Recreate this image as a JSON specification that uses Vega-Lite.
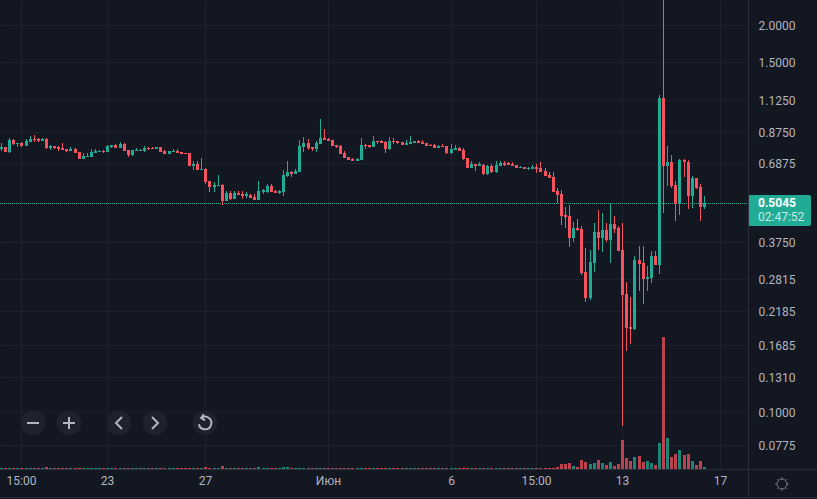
{
  "$schema": "https://vega.github.io/schema/vega-lite/v6.json",
  "description": "Candlestick chart with volume on a logarithmic price scale, dark theme.",
  "width": 748,
  "height": 469,
  "autosize": "none",
  "padding": {"left": 0, "top": 0, "right": 69, "bottom": 30},
  "background": "#131722",
  "config": {"view": {"stroke": null}, "font": "Roboto"},
  "datasets": {
    "bars": [
      {"i":0,"o":0.7678,"h":0.8043,"l":0.7560,"c":0.7798,"v":1},
      {"i":1,"o":0.7798,"h":0.7798,"l":0.7502,"c":0.7502,"v":1},
      {"i":2,"o":0.7502,"h":0.8360,"l":0.7444,"c":0.8232,"v":1},
      {"i":3,"o":0.8232,"h":0.8296,"l":0.7919,"c":0.7981,"v":1},
      {"i":4,"o":0.7981,"h":0.8043,"l":0.7798,"c":0.8043,"v":1},
      {"i":5,"o":0.8043,"h":0.8105,"l":0.7798,"c":0.7858,"v":1},
      {"i":6,"o":0.7858,"h":0.8296,"l":0.7858,"c":0.8168,"v":1},
      {"i":7,"o":0.8105,"h":0.8490,"l":0.8105,"c":0.8296,"v":1},
      {"i":8,"o":0.8296,"h":0.8556,"l":0.8105,"c":0.8232,"v":1},
      {"i":9,"o":0.8296,"h":0.8360,"l":0.8105,"c":0.8168,"v":1},
      {"i":10,"o":0.8168,"h":0.8360,"l":0.8168,"c":0.8296,"v":1},
      {"i":11,"o":0.8296,"h":0.8360,"l":0.7678,"c":0.7738,"v":2},
      {"i":12,"o":0.7738,"h":0.7919,"l":0.7619,"c":0.7858,"v":1},
      {"i":13,"o":0.7858,"h":0.7858,"l":0.7678,"c":0.7738,"v":1},
      {"i":14,"o":0.7798,"h":0.7858,"l":0.7560,"c":0.7678,"v":1},
      {"i":15,"o":0.7738,"h":0.8043,"l":0.7619,"c":0.7619,"v":1},
      {"i":16,"o":0.7678,"h":0.7678,"l":0.7502,"c":0.7560,"v":1},
      {"i":17,"o":0.7560,"h":0.7798,"l":0.7560,"c":0.7678,"v":1},
      {"i":18,"o":0.7678,"h":0.7738,"l":0.7444,"c":0.7444,"v":1},
      {"i":19,"o":0.7502,"h":0.7502,"l":0.7106,"c":0.7106,"v":1},
      {"i":20,"o":0.7106,"h":0.7444,"l":0.7106,"c":0.7273,"v":1},
      {"i":21,"o":0.7217,"h":0.7444,"l":0.7217,"c":0.7273,"v":1},
      {"i":22,"o":0.7217,"h":0.7678,"l":0.7217,"c":0.7502,"v":1},
      {"i":23,"o":0.7444,"h":0.7678,"l":0.7444,"c":0.7560,"v":1},
      {"i":24,"o":0.7502,"h":0.7619,"l":0.7502,"c":0.7560,"v":1},
      {"i":25,"o":0.7560,"h":0.7619,"l":0.7444,"c":0.7502,"v":1},
      {"i":26,"o":0.7502,"h":0.7919,"l":0.7502,"c":0.7858,"v":1},
      {"i":27,"o":0.7798,"h":0.7919,"l":0.7738,"c":0.7919,"v":1},
      {"i":28,"o":0.7919,"h":0.7981,"l":0.7738,"c":0.7738,"v":1},
      {"i":29,"o":0.7738,"h":0.8105,"l":0.7738,"c":0.7981,"v":1},
      {"i":30,"o":0.7981,"h":0.8043,"l":0.7560,"c":0.7560,"v":1},
      {"i":31,"o":0.7619,"h":0.7619,"l":0.7217,"c":0.7330,"v":1},
      {"i":32,"o":0.7330,"h":0.7619,"l":0.7273,"c":0.7619,"v":1},
      {"i":33,"o":0.7560,"h":0.7738,"l":0.7560,"c":0.7619,"v":1},
      {"i":34,"o":0.7560,"h":0.7678,"l":0.7560,"c":0.7619,"v":1},
      {"i":35,"o":0.7560,"h":0.7858,"l":0.7502,"c":0.7738,"v":1},
      {"i":36,"o":0.7738,"h":0.7798,"l":0.7619,"c":0.7678,"v":1},
      {"i":37,"o":0.7738,"h":0.7798,"l":0.7678,"c":0.7678,"v":1},
      {"i":38,"o":0.7678,"h":0.7798,"l":0.7678,"c":0.7798,"v":1},
      {"i":39,"o":0.7798,"h":0.7798,"l":0.7502,"c":0.7502,"v":1},
      {"i":40,"o":0.7560,"h":0.7619,"l":0.7387,"c":0.7387,"v":1},
      {"i":41,"o":0.7387,"h":0.7560,"l":0.7387,"c":0.7560,"v":1},
      {"i":42,"o":0.7502,"h":0.7678,"l":0.7502,"c":0.7560,"v":1},
      {"i":43,"o":0.7560,"h":0.7678,"l":0.7444,"c":0.7444,"v":1},
      {"i":44,"o":0.7502,"h":0.7502,"l":0.7387,"c":0.7387,"v":1},
      {"i":45,"o":0.7444,"h":0.7444,"l":0.7387,"c":0.7387,"v":1},
      {"i":46,"o":0.7444,"h":0.7444,"l":0.6731,"c":0.6731,"v":1},
      {"i":47,"o":0.6731,"h":0.6997,"l":0.6526,"c":0.6836,"v":1},
      {"i":48,"o":0.6836,"h":0.6997,"l":0.6526,"c":0.6526,"v":1},
      {"i":49,"o":0.6526,"h":0.7161,"l":0.6526,"c":0.6577,"v":1},
      {"i":50,"o":0.6577,"h":0.6628,"l":0.5856,"c":0.5947,"v":2},
      {"i":51,"o":0.5993,"h":0.5993,"l":0.5504,"c":0.5721,"v":1},
      {"i":52,"o":0.5721,"h":0.5947,"l":0.5504,"c":0.5811,"v":1},
      {"i":53,"o":0.5766,"h":0.6278,"l":0.5766,"c":0.5811,"v":1},
      {"i":54,"o":0.5811,"h":0.5856,"l":0.4977,"c":0.5134,"v":3},
      {"i":55,"o":0.5134,"h":0.5547,"l":0.5134,"c":0.5461,"v":1},
      {"i":56,"o":0.5461,"h":0.5547,"l":0.5174,"c":0.5214,"v":1},
      {"i":57,"o":0.5214,"h":0.5547,"l":0.5214,"c":0.5461,"v":1},
      {"i":58,"o":0.5461,"h":0.5547,"l":0.5378,"c":0.5378,"v":1},
      {"i":59,"o":0.5419,"h":0.5547,"l":0.5214,"c":0.5336,"v":1},
      {"i":60,"o":0.5336,"h":0.5504,"l":0.5254,"c":0.5419,"v":1},
      {"i":61,"o":0.5378,"h":0.5419,"l":0.5254,"c":0.5254,"v":1},
      {"i":62,"o":0.5295,"h":0.5419,"l":0.5174,"c":0.5174,"v":1},
      {"i":63,"o":0.5174,"h":0.5993,"l":0.5174,"c":0.5547,"v":2},
      {"i":64,"o":0.5504,"h":0.5633,"l":0.5419,"c":0.5590,"v":1},
      {"i":65,"o":0.5504,"h":0.5856,"l":0.5461,"c":0.5766,"v":1},
      {"i":66,"o":0.5766,"h":0.5856,"l":0.5504,"c":0.5504,"v":1},
      {"i":67,"o":0.5547,"h":0.5590,"l":0.5461,"c":0.5461,"v":1},
      {"i":68,"o":0.5461,"h":0.5590,"l":0.5419,"c":0.5547,"v":1},
      {"i":69,"o":0.5504,"h":0.6526,"l":0.5336,"c":0.6278,"v":2},
      {"i":70,"o":0.6230,"h":0.6997,"l":0.6182,"c":0.6426,"v":2},
      {"i":71,"o":0.6426,"h":0.6476,"l":0.6182,"c":0.6327,"v":1},
      {"i":72,"o":0.6327,"h":0.6577,"l":0.6327,"c":0.6476,"v":1},
      {"i":73,"o":0.6426,"h":0.8232,"l":0.6426,"c":0.7858,"v":1},
      {"i":74,"o":0.7798,"h":0.8425,"l":0.7502,"c":0.8043,"v":1},
      {"i":75,"o":0.8043,"h":0.8296,"l":0.7619,"c":0.7738,"v":1},
      {"i":76,"o":0.7798,"h":0.7798,"l":0.7560,"c":0.7678,"v":1},
      {"i":77,"o":0.7678,"h":0.8168,"l":0.7502,"c":0.8043,"v":1},
      {"i":78,"o":0.7981,"h":0.9685,"l":0.7981,"c":0.8360,"v":1},
      {"i":79,"o":0.8360,"h":0.8963,"l":0.8232,"c":0.8232,"v":1},
      {"i":80,"o":0.8296,"h":0.8360,"l":0.8168,"c":0.8168,"v":1},
      {"i":81,"o":0.8232,"h":0.8232,"l":0.7858,"c":0.7858,"v":1},
      {"i":82,"o":0.7919,"h":0.7919,"l":0.7738,"c":0.7798,"v":1},
      {"i":83,"o":0.7858,"h":0.7919,"l":0.7387,"c":0.7387,"v":1},
      {"i":84,"o":0.7444,"h":0.7560,"l":0.7161,"c":0.7161,"v":1},
      {"i":85,"o":0.7217,"h":0.7217,"l":0.7051,"c":0.7051,"v":1},
      {"i":86,"o":0.7106,"h":0.7161,"l":0.6997,"c":0.6997,"v":1},
      {"i":87,"o":0.6997,"h":0.7161,"l":0.6997,"c":0.7106,"v":1},
      {"i":88,"o":0.7051,"h":0.8360,"l":0.7051,"c":0.7919,"v":1},
      {"i":89,"o":0.7919,"h":0.7981,"l":0.7678,"c":0.7858,"v":1},
      {"i":90,"o":0.7919,"h":0.7919,"l":0.7738,"c":0.7798,"v":1},
      {"i":91,"o":0.7798,"h":0.8490,"l":0.7798,"c":0.8168,"v":1},
      {"i":92,"o":0.8168,"h":0.8168,"l":0.7981,"c":0.8105,"v":1},
      {"i":93,"o":0.8168,"h":0.8232,"l":0.8043,"c":0.8043,"v":1},
      {"i":94,"o":0.8105,"h":0.8168,"l":0.7444,"c":0.7678,"v":1},
      {"i":95,"o":0.7678,"h":0.8425,"l":0.7619,"c":0.8168,"v":1},
      {"i":96,"o":0.8168,"h":0.8360,"l":0.7981,"c":0.8105,"v":1},
      {"i":97,"o":0.8168,"h":0.8168,"l":0.7981,"c":0.8043,"v":1},
      {"i":98,"o":0.8105,"h":0.8105,"l":0.7919,"c":0.7919,"v":1},
      {"i":99,"o":0.7919,"h":0.8232,"l":0.7919,"c":0.8043,"v":1},
      {"i":100,"o":0.7981,"h":0.8490,"l":0.7981,"c":0.8105,"v":1},
      {"i":101,"o":0.8043,"h":0.8168,"l":0.8043,"c":0.8168,"v":1},
      {"i":102,"o":0.8168,"h":0.8232,"l":0.8043,"c":0.8043,"v":1},
      {"i":103,"o":0.8105,"h":0.8232,"l":0.7981,"c":0.7981,"v":1},
      {"i":104,"o":0.8043,"h":0.8043,"l":0.7858,"c":0.7858,"v":1},
      {"i":105,"o":0.7919,"h":0.7981,"l":0.7858,"c":0.7858,"v":1},
      {"i":106,"o":0.7919,"h":0.7981,"l":0.7738,"c":0.7738,"v":1},
      {"i":107,"o":0.7738,"h":0.7919,"l":0.7738,"c":0.7858,"v":1},
      {"i":108,"o":0.7858,"h":0.7981,"l":0.7798,"c":0.7798,"v":1},
      {"i":109,"o":0.7858,"h":0.7858,"l":0.7387,"c":0.7444,"v":1},
      {"i":110,"o":0.7444,"h":0.7981,"l":0.7387,"c":0.7678,"v":1},
      {"i":111,"o":0.7619,"h":0.7919,"l":0.7619,"c":0.7738,"v":1},
      {"i":112,"o":0.7738,"h":0.7798,"l":0.7560,"c":0.7560,"v":1},
      {"i":113,"o":0.7619,"h":0.7738,"l":0.7051,"c":0.7106,"v":1},
      {"i":114,"o":0.7161,"h":0.7161,"l":0.6628,"c":0.6628,"v":1},
      {"i":115,"o":0.6628,"h":0.6997,"l":0.6628,"c":0.6836,"v":1},
      {"i":116,"o":0.6836,"h":0.6836,"l":0.6476,"c":0.6731,"v":1},
      {"i":117,"o":0.6731,"h":0.6943,"l":0.6731,"c":0.6836,"v":1},
      {"i":118,"o":0.6783,"h":0.6836,"l":0.6278,"c":0.6327,"v":1},
      {"i":119,"o":0.6327,"h":0.6783,"l":0.6278,"c":0.6731,"v":1},
      {"i":120,"o":0.6731,"h":0.6836,"l":0.6376,"c":0.6426,"v":1},
      {"i":121,"o":0.6426,"h":0.6997,"l":0.6376,"c":0.6783,"v":1},
      {"i":122,"o":0.6731,"h":0.6997,"l":0.6731,"c":0.6889,"v":1},
      {"i":123,"o":0.6889,"h":0.6997,"l":0.6731,"c":0.6783,"v":1},
      {"i":124,"o":0.6889,"h":0.6943,"l":0.6783,"c":0.6783,"v":1},
      {"i":125,"o":0.6836,"h":0.6943,"l":0.6731,"c":0.6731,"v":1},
      {"i":126,"o":0.6783,"h":0.6783,"l":0.6628,"c":0.6628,"v":1},
      {"i":127,"o":0.6628,"h":0.6731,"l":0.6628,"c":0.6679,"v":1},
      {"i":128,"o":0.6679,"h":0.6679,"l":0.6577,"c":0.6577,"v":1},
      {"i":129,"o":0.6577,"h":0.6679,"l":0.6526,"c":0.6628,"v":1},
      {"i":130,"o":0.6577,"h":0.6783,"l":0.6577,"c":0.6679,"v":1},
      {"i":131,"o":0.6679,"h":0.6836,"l":0.6376,"c":0.6577,"v":1},
      {"i":132,"o":0.6628,"h":0.6943,"l":0.6426,"c":0.6426,"v":1},
      {"i":133,"o":0.6476,"h":0.6628,"l":0.6230,"c":0.6230,"v":1},
      {"i":134,"o":0.6278,"h":0.6426,"l":0.6134,"c":0.6134,"v":1},
      {"i":135,"o":0.6182,"h":0.6426,"l":0.5504,"c":0.5504,"v":1},
      {"i":136,"o":0.5547,"h":0.5677,"l":0.5055,"c":0.5378,"v":2},
      {"i":137,"o":0.5419,"h":0.5590,"l":0.4264,"c":0.4571,"v":5},
      {"i":138,"o":0.4606,"h":0.4901,"l":0.4166,"c":0.4536,"v":5},
      {"i":139,"o":0.4571,"h":0.4977,"l":0.3596,"c":0.3856,"v":6},
      {"i":140,"o":0.3856,"h":0.4364,"l":0.3738,"c":0.4166,"v":3},
      {"i":141,"o":0.4166,"h":0.4466,"l":0.4070,"c":0.4102,"v":2},
      {"i":142,"o":0.4134,"h":0.4231,"l":0.2896,"c":0.2941,"v":9},
      {"i":143,"o":0.2964,"h":0.3569,"l":0.2350,"c":0.2424,"v":7},
      {"i":144,"o":0.2424,"h":0.3514,"l":0.2387,"c":0.3202,"v":5},
      {"i":145,"o":0.3177,"h":0.4330,"l":0.2964,"c":0.4039,"v":6},
      {"i":146,"o":0.4039,"h":0.4788,"l":0.3514,"c":0.3856,"v":9},
      {"i":147,"o":0.3856,"h":0.4678,"l":0.3460,"c":0.4102,"v":6},
      {"i":148,"o":0.4102,"h":0.4330,"l":0.3738,"c":0.3797,"v":4},
      {"i":149,"o":0.3797,"h":0.5055,"l":0.3177,"c":0.4297,"v":7},
      {"i":150,"o":0.4297,"h":0.4571,"l":0.4008,"c":0.4134,"v":3},
      {"i":151,"o":0.4166,"h":0.4231,"l":0.3487,"c":0.3487,"v":5},
      {"i":152,"o":0.3514,"h":0.4330,"l":0.0899,"c":0.2481,"v":29},
      {"i":153,"o":0.2500,"h":0.2743,"l":0.1609,"c":0.1922,"v":11},
      {"i":154,"o":0.1937,"h":0.2443,"l":0.1697,"c":0.1907,"v":8},
      {"i":155,"o":0.1907,"h":0.3355,"l":0.1893,"c":0.3252,"v":12},
      {"i":156,"o":0.3252,"h":0.3624,"l":0.2559,"c":0.3153,"v":13},
      {"i":157,"o":0.3177,"h":0.3624,"l":0.2314,"c":0.2808,"v":7},
      {"i":158,"o":0.2808,"h":0.3105,"l":0.2559,"c":0.2852,"v":8},
      {"i":159,"o":0.2830,"h":0.3487,"l":0.2722,"c":0.3355,"v":6},
      {"i":160,"o":0.3355,"h":0.3487,"l":0.3129,"c":0.3129,"v":4},
      {"i":161,"o":0.3129,"h":1.1660,"l":0.2918,"c":1.1394,"v":26},
      {"i":162,"o":1.1394,"h":2.6000,"l":0.4678,"c":0.6731,"v":132},
      {"i":163,"o":0.6731,"h":0.7858,"l":0.5766,"c":0.6943,"v":31},
      {"i":164,"o":0.6943,"h":0.7330,"l":0.5677,"c":0.5766,"v":12},
      {"i":165,"o":0.5811,"h":0.5993,"l":0.4398,"c":0.5016,"v":15},
      {"i":166,"o":0.5016,"h":0.7106,"l":0.4606,"c":0.7051,"v":19},
      {"i":167,"o":0.7051,"h":0.7106,"l":0.6182,"c":0.6943,"v":14},
      {"i":168,"o":0.6943,"h":0.7051,"l":0.4826,"c":0.5336,"v":15},
      {"i":169,"o":0.5336,"h":0.6230,"l":0.4863,"c":0.6134,"v":8},
      {"i":170,"o":0.6134,"h":0.6134,"l":0.5633,"c":0.5677,"v":4},
      {"i":171,"o":0.5721,"h":0.5856,"l":0.4398,"c":0.4901,"v":8},
      {"i":172,"o":0.4901,"h":0.5336,"l":0.4826,"c":0.5045,"v":2}
    ],
    "buttons": [
      {"i":7.84,"price":0.0921,"icon":"minus"},
      {"i":16.65,"price":0.0921,"icon":"plus"},
      {"i":28.9,"price":0.0921,"icon":"left"},
      {"i":37.72,"price":0.0921,"icon":"right"},
      {"i":49.96,"price":0.0921,"icon":"reset"}
    ]
  },
  "resolve": {"scale": {"y": "independent"}},
  "layer": [
    {
      "layer": [
        {
          "data": {"values": [{}]},
          "mark": {"type": "rule", "color": "#22ab94", "strokeDash": [1, 1], "yOffset": 0.5},
          "encoding": {
            "x": {
              "datum": -0.245,
              "type": "quantitative",
              "scale": {"domain": [-0.245, 182.775], "nice": false, "zero": false, "round": true, "padding": 0},
              "axis": {
                "title": null,
                "values": [5, 26, 50, 80, 110, 131, 152, 176],
                "labelExpr": "['15:00','23','27','Июн','6','15:00','13','17'][indexof([5,26,50,80,110,131,152,176],datum.value)]",
                "labelFont": "Roboto",
                "labelFontSize": 12,
                "labelColor": "#b2b5be",
                "labelPadding": 6,
                "labelOverlap": false,
                "labelFlush": false,
                "tickSize": 0,
                "grid": true,
                "gridColor": "#1e222d",
                "domainColor": "#2a2e39"
              }
            },
            "x2": {"datum": 182.775},
            "y": {
              "datum": 0.5045,
              "type": "quantitative",
              "scale": {"type": "log", "domain": [0.0645, 2.4326], "nice": false, "round": true, "padding": 0},
              "axis": {
                "title": null,
                "orient": "right",
                "values": [2, 1.5, 1.125, 0.875, 0.6875, 0.375, 0.2815, 0.2185, 0.1685, 0.131, 0.1, 0.0775],
                "format": ".4f",
                "labelFont": "Roboto",
                "labelFontSize": 12,
                "labelColor": "#b2b5be",
                "labelPadding": 10,
                "labelOverlap": false,
                "labelFlush": false,
                "tickSize": 0,
                "grid": true,
                "gridColor": "#1e222d",
                "domainColor": "#2a2e39"
              }
            }
          }
        },
        {
          "data": {"name": "bars"},
          "mark": {"type": "rule", "strokeWidth": 1, "clip": true, "xOffset": 0.5},
          "encoding": {
            "x": {"field": "i", "type": "quantitative"},
            "y": {"field": "l", "type": "quantitative"},
            "y2": {"field": "h"},
            "color": {"condition": {"test": "datum.c >= datum.o", "value": "#22ab94"}, "value": "#f7525f"}
          }
        },
        {
          "data": {"name": "bars"},
          "mark": {"type": "bar", "size": 3, "orient": "vertical", "clip": true, "xOffset": 0.5},
          "encoding": {
            "x": {"field": "i", "type": "quantitative"},
            "y": {"field": "o", "type": "quantitative"},
            "y2": {"field": "c"},
            "color": {"condition": {"test": "datum.c >= datum.o", "value": "#22ab94"}, "value": "#f7525f"}
          }
        },
        {
          "data": {"name": "buttons"},
          "mark": {"type": "point", "shape": "circle", "filled": true, "size": 616, "color": "#1e222d", "opacity": 1},
          "encoding": {
            "x": {"field": "i", "type": "quantitative"},
            "y": {"field": "price", "type": "quantitative"}
          }
        },
        {
          "data": {"name": "buttons"},
          "mark": {"type": "point", "filled": false, "size": 144, "stroke": "#b2b5be", "strokeWidth": 2, "opacity": 1},
          "encoding": {
            "x": {"field": "i", "type": "quantitative"},
            "y": {"field": "price", "type": "quantitative"},
            "shape": {
              "field": "icon",
              "type": "nominal",
              "legend": null,
              "scale": {
                "domain": ["minus", "plus", "left", "right", "reset"],
                "range": [
                  "M-1,0L1,0",
                  "M-1,0L1,0M0,-1L0,1",
                  "M0.5,-1L-0.5,0L0.5,1",
                  "M-0.5,-1L0.5,0L-0.5,1",
                  "M-0.6,-0.85A1.05,1.05 0 1 1 -1.02,0.2M-0.2,-1.45L-0.65,-0.85L0,-0.45"
                ]
              }
            }
          }
        },
        {
          "data": {"values": [{}]},
          "mark": {"type": "rect", "color": "#22ab94", "cornerRadius": 2},
          "encoding": {
            "x": {"datum": 182.775, "type": "quantitative"},
            "x2": {"datum": 198.2},
            "y": {"datum": 0.5378, "type": "quantitative"},
            "y2": {"datum": 0.4231}
          }
        },
        {
          "data": {"values": [{}]},
          "mark": {"type": "text", "align": "left", "baseline": "middle", "font": "Roboto", "fontSize": 12, "fontWeight": "bold", "color": "#ffffff"},
          "encoding": {
            "x": {"datum": 185.2, "type": "quantitative"},
            "y": {"datum": 0.5055, "type": "quantitative"},
            "text": {"value": "0.5045"}
          }
        },
        {
          "data": {"values": [{}]},
          "mark": {"type": "text", "align": "left", "baseline": "middle", "font": "Roboto", "fontSize": 12, "color": "#c8e9e3"},
          "encoding": {
            "x": {"datum": 185.2, "type": "quantitative"},
            "y": {"datum": 0.4535, "type": "quantitative"},
            "text": {"value": "02:47:52"}
          }
        },
        {
          "data": {"values": [{}]},
          "mark": {"type": "point", "filled": false, "size": 144, "stroke": "#787b86", "strokeWidth": 1, "opacity": 1, "shape": "M0.83,0A0.83,0.83 0 1 1 -0.83,0A0.83,0.83 0 1 1 0.83,0M0,-0.83L0,-1.13M0,0.83L0,1.13M-0.83,0L-1.13,0M0.83,0L1.13,0M-0.6,-0.6L-0.8,-0.8M0.6,-0.6L0.8,-0.8M-0.6,0.6L-0.8,0.8M0.6,0.6L0.8,0.8"},
          "encoding": {
            "x": {"datum": 191.1, "type": "quantitative"},
            "y": {"datum": 0.0574, "type": "quantitative"}
          }
        },
        {
          "data": {"values": [{}]},
          "mark": {"type": "rule", "color": "#2a2e39", "xOffset": 0.5},
          "encoding": {
            "x": {"datum": 182.775, "type": "quantitative"},
            "y": {"datum": 2.4326, "type": "quantitative"},
            "y2": {"datum": 0.0519}
          }
        },
        {
          "data": {"values": [{}]},
          "mark": {"type": "rule", "color": "#2a2e39", "yOffset": 0.5},
          "encoding": {
            "x": {"datum": -0.245, "type": "quantitative"},
            "x2": {"datum": 199.7},
            "y": {"datum": 0.0645, "type": "quantitative"}
          }
        },
        {
          "data": {"values": [{}]},
          "mark": {"type": "rule", "color": "#2a2e39", "yOffset": 0.5},
          "encoding": {
            "x": {"datum": -0.245, "type": "quantitative"},
            "x2": {"datum": 199.7},
            "y": {"datum": 0.0519, "type": "quantitative"}
          }
        }
      ]
    },
    {
      "data": {"name": "bars"},
      "mark": {"type": "bar", "size": 3, "orient": "vertical", "xOffset": 0.5, "opacity": 0.75},
      "encoding": {
        "x": {"field": "i", "type": "quantitative"},
        "y": {
          "field": "v",
          "type": "quantitative",
          "scale": {"domain": [0, 469], "nice": false, "round": true},
          "axis": null
        },
        "y2": {"datum": 0},
        "color": {"condition": {"test": "datum.c >= datum.o", "value": "#22ab94"}, "value": "#f7525f"}
      }
    }
  ]
}
